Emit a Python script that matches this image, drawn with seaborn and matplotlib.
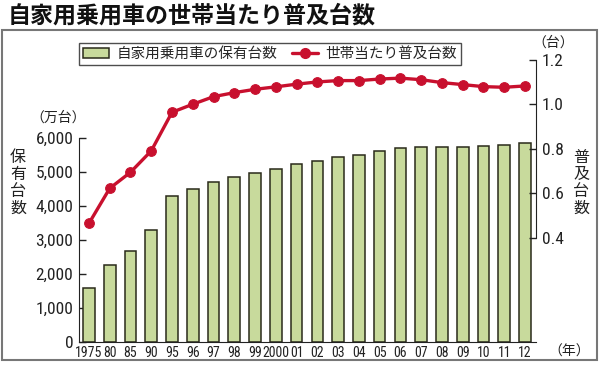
import matplotlib
matplotlib.use('Agg')
import matplotlib.pyplot as plt
import numpy as np
import seaborn as sns
from matplotlib import font_manager
from matplotlib.patches import Patch, Rectangle
from matplotlib.lines import Line2D

# データ
years = ['1975', '80', '85', '90', '95', '96', '97', '98', '99', '2000',
         '01', '02', '03', '04', '05', '06', '07', '08', '09', '10', '11', '12']
cars = [1600, 2260, 2690, 3280, 4280, 4500, 4700, 4860, 4985, 5100,
        5230, 5335, 5435, 5510, 5610, 5700, 5745, 5745, 5730, 5765, 5795, 5860]
per_household = [0.466, 0.623, 0.695, 0.791, 0.964, 1.000, 1.034, 1.052, 1.067, 1.078,
                 1.090, 1.100, 1.106, 1.106, 1.113, 1.117, 1.110, 1.097, 1.088, 1.079,
                 1.076, 1.082]
left_ticks = [0, 1000, 2000, 3000, 4000, 5000, 6000]
right_ticks = [0.4, 0.6, 0.8, 1.0, 1.2]

sns.set_style('white')

# 細い数字用フォントを探す
entries = font_manager.fontManager.ttflist
names = {f.name for f in entries}
num_prop = None
for cand in ['Liberation Sans Narrow', 'Roboto Condensed', 'Open Sans Condensed',
             'Noto Sans Condensed', 'DejaVu Sans Condensed']:
    if cand in names:
        num_prop = font_manager.FontProperties(family=cand)
        break
if num_prop is None:
    for f in entries:
        if f.stretch in ('condensed', 'semi-condensed', 'extra-condensed') and f.style == 'normal' \
                and f.weight in (400, 'normal', 'regular'):
            num_prop = font_manager.FontProperties(fname=f.fname)
            break
if num_prop is None:
    for f in entries:
        if ('Condensed' in f.fname or 'Narrow' in f.fname) and 'Bold' not in f.fname \
                and 'Italic' not in f.fname:
            num_prop = font_manager.FontProperties(fname=f.fname)
            break
if num_prop is None:
    num_prop = font_manager.FontProperties(family='Liberation Sans')

jp_font = ['Noto Sans CJK JP', 'DejaVu Sans']
plt.rcParams['font.family'] = ['Liberation Sans', 'Noto Sans CJK JP']

bar_color = '#c8da9c'
edge_color = '#2a2a1a'
line_color = '#c8102e'
text_color = '#222222'

fig = plt.figure(figsize=(6, 3.67), dpi=100)
ax = fig.add_axes([79 / 600, 1 - 342 / 367, (536 - 79) / 600, (342 - 40) / 367])

x = np.arange(len(years))
sns.barplot(x=x, y=cars, ax=ax, color=bar_color, edgecolor=edge_color,
            linewidth=1.1, width=0.56, saturation=1, native_scale=True)
ax.set_xlim(-0.48, 21.53)
ax.set_ylim(0, 8882)
ax.set_xticks(x)
ax.set_xticklabels(years, color=text_color)
ax.set_yticks(left_ticks)
ax.set_yticklabels([f'{v:,}' for v in left_ticks], color=text_color)
for t in ax.get_xticklabels():
    t.set_fontproperties(num_prop)
    t.set_fontsize(10)
for t in ax.get_yticklabels():
    t.set_fontproperties(num_prop)
    t.set_fontsize(12.5)
ax.tick_params(axis='y', direction='in', length=5, width=1, color=text_color, pad=4)
ax.tick_params(axis='x', length=0, pad=3)
ax.set_xlabel('')
ax.set_ylabel('')
for s in ['top', 'right']:
    ax.spines[s].set_visible(False)
ax.spines['left'].set_bounds(0, 6000)
ax.spines['left'].set_color(text_color)
ax.spines['bottom'].set_color(text_color)

ax2 = ax.twinx()
sns.lineplot(x=x, y=per_household, ax=ax2, color=line_color, linewidth=2.4,
             marker='o', markersize=7, markeredgecolor=line_color)
ax2.set_ylim(-0.066, 1.288)
ax2.set_yticks(right_ticks)
ax2.set_yticklabels([f'{v:.1f}' for v in right_ticks], color=text_color)
for t in ax2.get_yticklabels():
    t.set_fontproperties(num_prop)
    t.set_fontsize(12.5)
ax2.tick_params(axis='y', direction='in', length=5, width=1, color=text_color, pad=4)
for s in ['top', 'left', 'bottom']:
    ax2.spines[s].set_visible(False)
ax2.spines['right'].set_bounds(0.4, 1.2)
ax2.spines['right'].set_color(text_color)
ax2.set_ylabel('')

# タイトルとラベル
fig.text(8 / 600, 1 - 16 / 367, '自家用乗用車の世帯当たり普及台数', fontsize=16.6,
         family=jp_font, weight='bold', va='center', ha='left', color='#111111')
fig.text(58 / 600, 1 - 118 / 367, '（万台）', fontsize=10, family=jp_font,
         ha='center', va='center', color=text_color)
fig.text(18 / 600, 1 - 183 / 367, '保\n有\n台\n数', fontsize=11.5, family=jp_font,
         ha='center', va='center', linespacing=1.0, color=text_color)
fig.text(553 / 600, 1 - 43 / 367, '（台）', fontsize=10, family=jp_font,
         ha='center', va='center', color=text_color)
fig.text(581 / 600, 1 - 183 / 367, '普\n及\n台\n数', fontsize=11.5, family=jp_font,
         ha='center', va='center', linespacing=1.0, color=text_color)
fig.text(569 / 600, 1 - 352 / 367, '（年）', fontsize=10, family=jp_font,
         ha='center', va='center', color=text_color)

handles = [Patch(facecolor=bar_color, edgecolor=edge_color, linewidth=1.1),
           Line2D([0], [0], color=line_color, linewidth=2.4, marker='o', markersize=7)]
leg = fig.legend(handles, ['自家用乗用車の保有台数', '世帯当たり普及台数'],
                 loc='center', bbox_to_anchor=(270 / 600, 1 - 54 / 367), ncol=2,
                 frameon=True, fancybox=False, edgecolor=text_color,
                 prop={'family': jp_font, 'size': 10.5}, handlelength=1.8,
                 columnspacing=1.0, handletextpad=0.5, borderpad=0.3)
leg.get_frame().set_linewidth(1.0)

fig.patches.append(Rectangle((2 / 600, 1 - 360 / 367), 595 / 600, 330 / 367,
                             transform=fig.transFigure, fill=False,
                             edgecolor='#777777', linewidth=1.5))

fig.savefig('out.png', dpi=100, facecolor='white')
